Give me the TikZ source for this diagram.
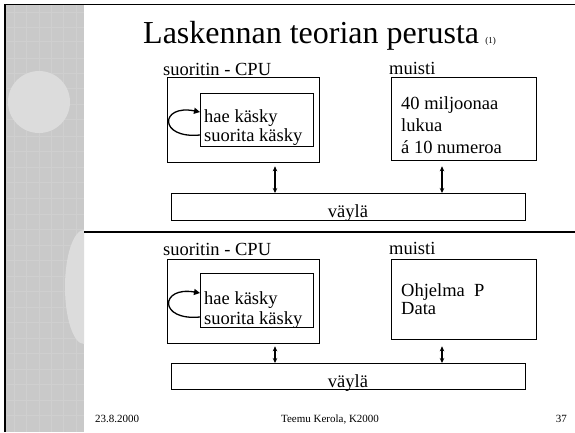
\documentclass[tikz,border=0pt]{standalone}
\usepackage{fontspec}
\setmainfont{Liberation Serif}
\usetikzlibrary{arrows.meta}
\definecolor{stripgray}{HTML}{C9C9C9}
\definecolor{spotgray}{HTML}{DCDCDC}
\definecolor{weave}{HTML}{CFCFCF}

\tikzset{
  box/.style={draw, line width=1.3pt, inner sep=0pt, anchor=north west},
  txt/.style={inner sep=0pt, anchor=base west, font=\fontsize{18.5}{20}\selectfont},
  small/.style={inner sep=0pt, anchor=base, font=\fontsize{11}{12}\selectfont},
  biarrow/.style={line width=1.2pt, {Stealth[length=5pt,width=4.5pt]}-{Stealth[length=5pt,width=4.5pt]}},
  looparrow/.style={line width=1.3pt, -{Triangle[length=6pt,width=6pt]}}
}

\begin{document}
\begin{tikzpicture}[x=1pt, y=-1pt]
\useasboundingbox (0,0) rectangle (575,432);
\fill[white] (0,0) rectangle (575,432);

% textured side strip
\fill[stripgray] (6,5) rectangle (84,432);
\foreach \yy in {12,27,41,58,73,88,104,119,136,151,167,182,198,214,229,245,260,276,291,307,322,338,353,369,384,400,415}
  \draw[weave, line width=0.5pt] (7,\yy) -- (84,\yy);
\foreach \xx in {14,26,39,51,63,76}
  \draw[weave, line width=0.5pt] (\xx,5) -- (\xx,432);
\fill[spotgray] (39,102) circle (31);
\begin{scope}
  \clip (0,0) rectangle (84,432);
  \fill[spotgray] (84,287) ellipse (19 and 57);
\end{scope}

% frame and divider
\draw[line width=1.5pt] (5,432) -- (5,4.5) -- (575,4.5);
\draw[line width=1.5pt] (84,232) -- (575,232);

% title
\node[inner sep=0pt, anchor=base west, font=\fontsize{32}{34}\selectfont] (title) at (143,43) {Laskennan teorian perusta};
\node[inner sep=0pt, anchor=base west, font=\fontsize{9}{10}\selectfont] (titlenum) at ([xshift=6pt]title.base east) {(1)};

% ---------- upper machine ----------
\node[txt] (cpulabel1) at (163,75) {suoritin - CPU};
\node[box, minimum width=152pt, minimum height=85pt] (cpu1) at (167,77) {};
\node[box, minimum width=113pt, minimum height=53pt] (inner1) at (200,93) {};
\node[txt] (fetch1) at (204,122) {hae käsky};
\node[txt] (exec1) at (204,141) {suorita käsky};
\draw[looparrow] ([yshift=-42pt]inner1.north west) .. controls (158,139) and (160,104) .. ([yshift=-19pt]inner1.north west);

\node[txt] (memlabel1) at (389,74) {muisti};
\node[box, minimum width=145pt, minimum height=83pt] (mem1) at (391,77) {};
\node[txt] (m1a) at (401,109) {40 miljoonaa};
\node[txt] (m1b) at (401,131) {lukua};
\node[txt] (m1c) at (401,153) {á 10 numeroa};

\node[box, minimum width=354pt, minimum height=27pt] (bus1) at (171,193) {};
\node[txt, anchor=base] (buslabel1) at (348,217) {väylä};

\coordinate (colA) at (275,0);
\coordinate (colB) at (442,0);
\draw[biarrow] ([yshift=-3pt]cpu1.south -| colA) -- (bus1.north -| colA);
\draw[biarrow] ([yshift=-5pt]mem1.south -| colB) -- (bus1.north -| colB);

% ---------- lower machine ----------
\node[txt] (cpulabel2) at (163,255) {suoritin - CPU};
\node[box, minimum width=152pt, minimum height=84pt] (cpu2) at (167,259) {};
\node[box, minimum width=113pt, minimum height=54pt] (inner2) at (200,273) {};
\node[txt] (fetch2) at (204,304) {hae käsky};
\node[txt] (exec2) at (204,324) {suorita käsky};
\draw[looparrow] ([yshift=-44pt]inner2.north west) .. controls (158,321) and (160,286) .. ([yshift=-20pt]inner2.north west);

\node[txt] (memlabel2) at (389,254) {muisti};
\node[box, minimum width=145pt, minimum height=80pt] (mem2) at (391,259) {};
\node[txt] (m2a) at (401,296) {Ohjelma\ \ P};
\node[txt] (m2b) at (401,314) {Data};

\node[box, minimum width=354pt, minimum height=26pt] (bus2) at (171,363) {};
\node[txt, anchor=base] (buslabel2) at (348,387) {väylä};

\draw[biarrow] ([yshift=-2pt]cpu2.south -| colA) -- (bus2.north -| colA);
\draw[biarrow] ([yshift=-6pt]mem2.south -| colB) -- (bus2.north -| colB);

% footer
\node[small, anchor=base west] (date) at (95,422) {23.8.2000};
\node[small] (author) at (330,422) {Teemu Kerola, K2000};
\node[small, anchor=base east] (page) at (567,422) {37};
\end{tikzpicture}
\end{document}
